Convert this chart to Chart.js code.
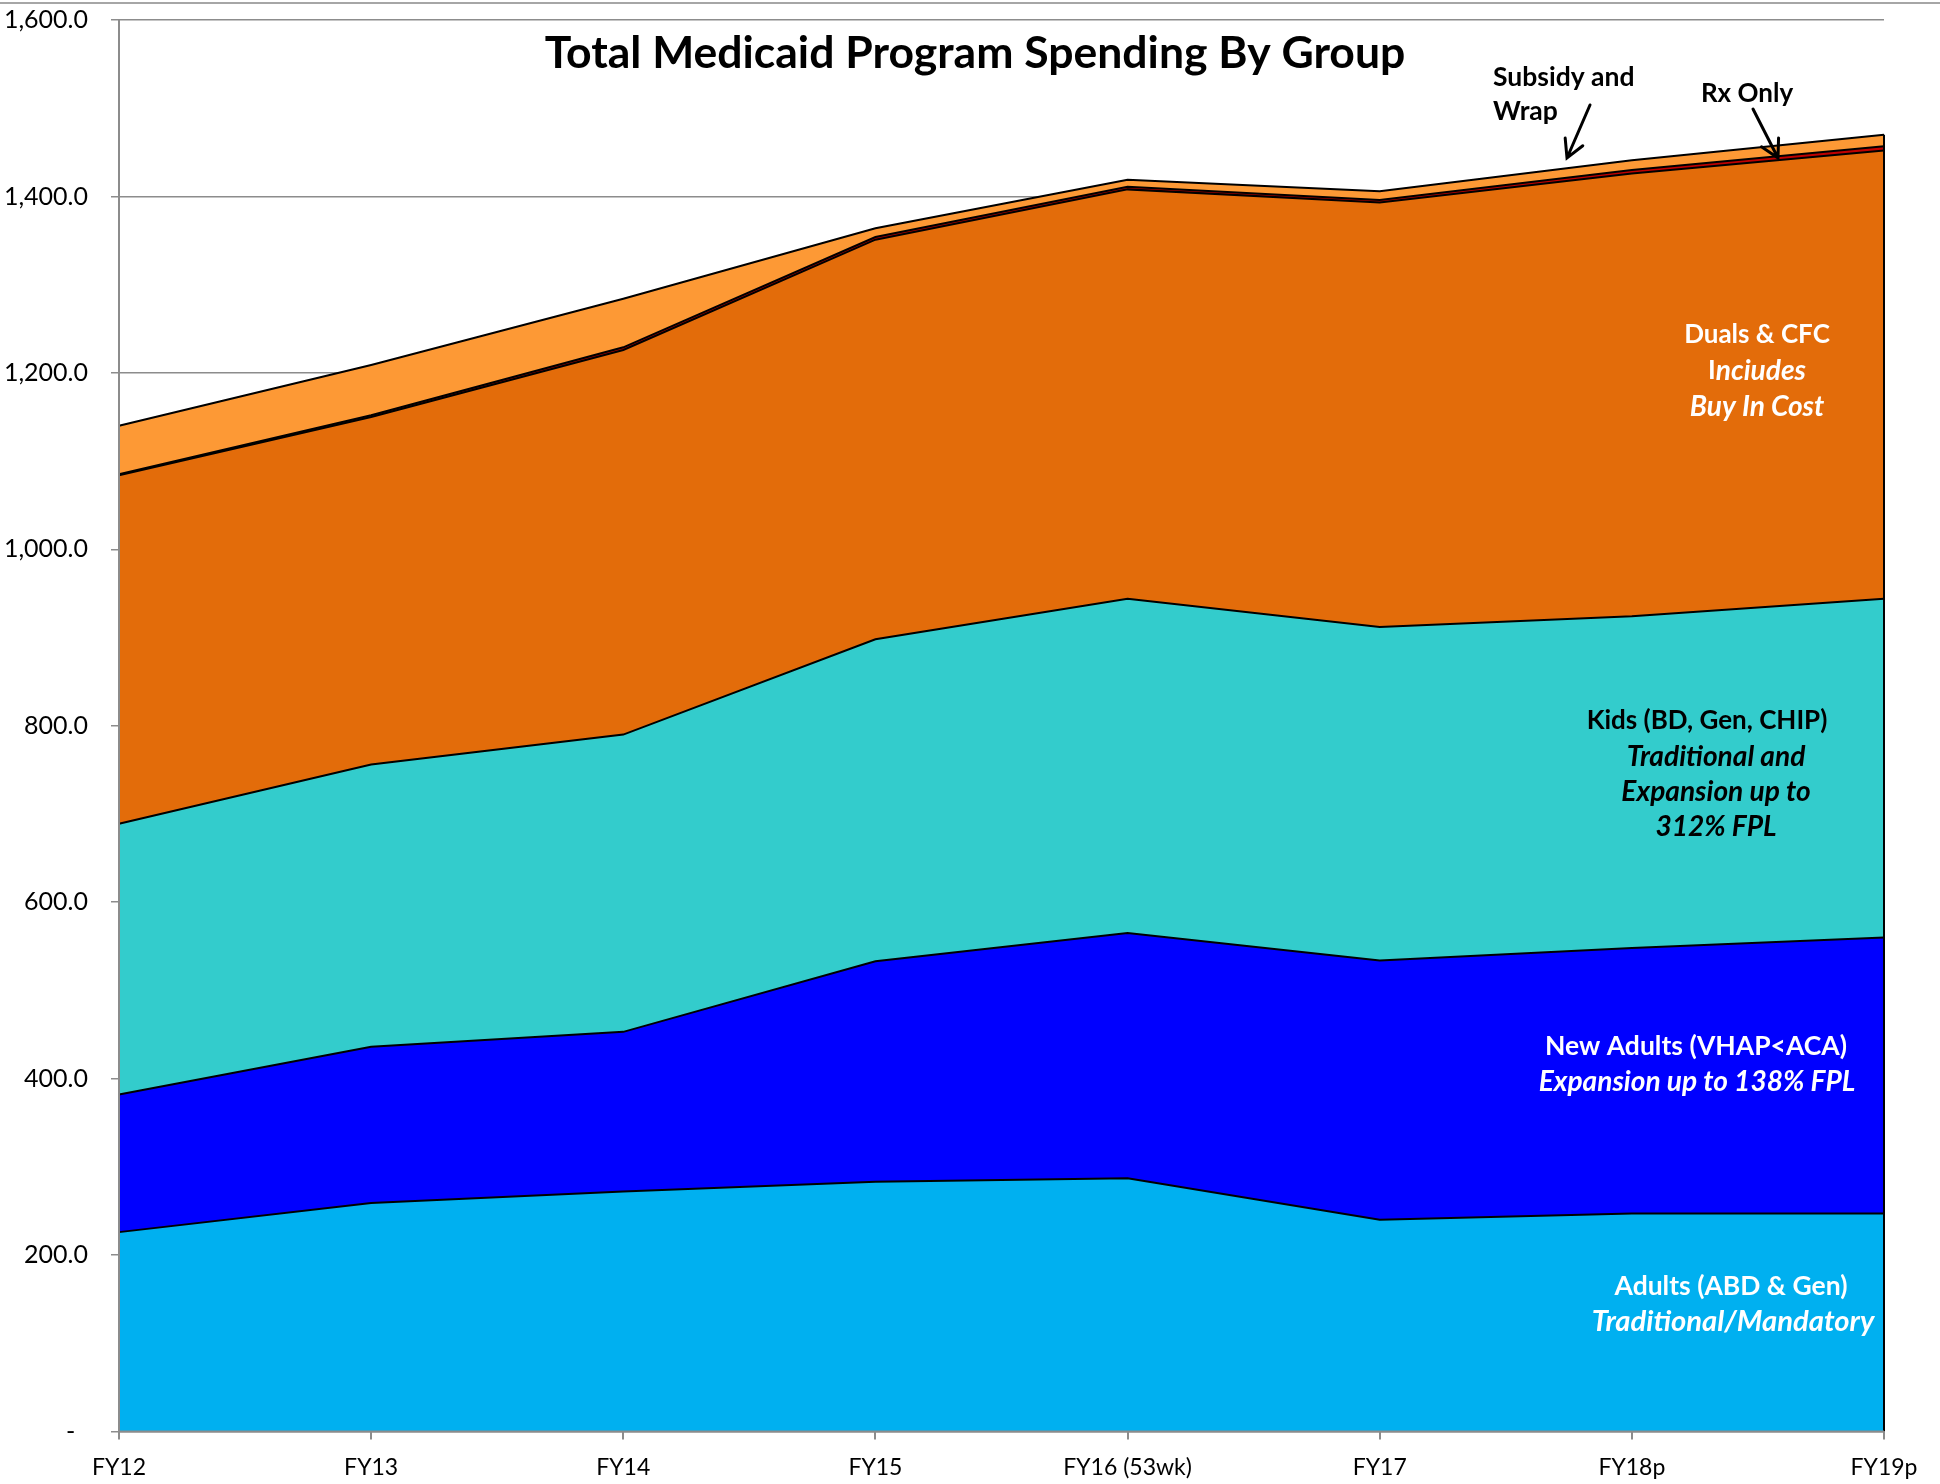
<!DOCTYPE html>
<html>
<head>
<meta charset="utf-8">
<script src="https://cdn.jsdelivr.net/npm/chart.js@4.4.0/dist/chart.umd.min.js"></script>
<style>
  html, body { margin: 0; padding: 0; background: #fff; }
  #wrap { width: 1940px; height: 1484px; position: relative; }
</style>
</head>
<body>
<div id="wrap"><canvas id="chart" width="1940" height="1484"></canvas></div>
<script>
const years = ['FY12', 'FY13', 'FY14', 'FY15', 'FY16 (53wk)', 'FY17', 'FY18p', 'FY19p'];
const adults    = [226, 259, 272, 283, 287, 240, 247, 247];
const newAdults = [156, 177, 181, 250, 278, 294, 301, 313];
const kids      = [307, 320, 337, 365, 379, 378, 376, 384];
const duals     = [395, 394, 436, 453, 464, 481, 502, 508];
const rxOnly    = [1, 2, 3, 3, 3, 3, 4, 5];
const subsidy   = [55, 57, 55, 10, 8, 10, 11, 13];
const yTicks    = [0, 200, 400, 600, 800, 1000, 1200, 1400, 1600];

const FONT = 'Lato, "Open Sans", sans-serif';
const ITALIC_SCALE = 1.08; // Lato italic runs narrower than the original's

// text drawn on top of the plot, in canvas pixels
const notes = [
  { x: 975,  y: 54,   align: 'center', size: 44.5, color: '#000', runs: [['Total Medicaid Program Spending By Group', false]] },
  { x: 1493, y: 77,   align: 'left',   size: 26.5, color: '#000', runs: [['Subsidy and', false]] },
  { x: 1493, y: 111,  align: 'left',   size: 26.5, color: '#000', runs: [['Wrap', false]] },
  { x: 1747, y: 94,   align: 'center', size: 26, color: '#000', runs: [['Rx Only', false]] },
  { x: 1757, y: 335,  align: 'center', size: 26, color: '#fff', runs: [['Duals & CFC', false]] },
  { x: 1757, y: 371,  align: 'center', size: 26, color: '#fff', runs: [['I', false], ['nciudes', true]] },
  { x: 1757, y: 407,  align: 'center', size: 26, color: '#fff', runs: [['Buy In Cost', true]] },
  { x: 1707, y: 721,  align: 'center', size: 26, color: '#000', runs: [['Kids (BD, Gen, CHIP)', false]] },
  { x: 1716, y: 757,  align: 'center', size: 26, color: '#000', runs: [['Traditional and', true]] },
  { x: 1716, y: 792,  align: 'center', size: 26, color: '#000', runs: [['Expansion up to', true]] },
  { x: 1716, y: 827,  align: 'center', size: 26, color: '#000', runs: [['312% FPL', true]] },
  { x: 1696, y: 1046, align: 'center', size: 26.5, color: '#fff', runs: [['New Adults (VHAP<ACA)', false]] },
  { x: 1697, y: 1082, align: 'center', size: 26, color: '#fff', runs: [['Expansion up to 138% FPL', true]] },
  { x: 1731, y: 1286, align: 'center', size: 26.5, color: '#fff', runs: [['Adults (ABD & Gen)', false]] },
  { x: 1733, y: 1322, align: 'center', size: 27, color: '#fff', runs: [['Traditional/Mandatory', true]] }
];
const arrows = [
  { from: [1590, 105], to: [1567, 158] },
  { from: [1753, 109], to: [1778, 158] }
];

function drawArrow(ctx, a) {
  const [x1, y1] = a.from, [x2, y2] = a.to;
  const ang = Math.atan2(y2 - y1, x2 - x1);
  const len = 20;
  ctx.beginPath();
  ctx.moveTo(x1, y1); ctx.lineTo(x2, y2);
  ctx.moveTo(x2 - len * Math.cos(ang - 0.5), y2 - len * Math.sin(ang - 0.5));
  ctx.lineTo(x2, y2);
  ctx.lineTo(x2 - len * Math.cos(ang + 0.5), y2 - len * Math.sin(ang + 0.5));
  ctx.stroke();
}

const overlay = {
  id: 'overlay',
  beforeDraw(chart) {
    const ctx = chart.ctx;
    ctx.save();
    ctx.strokeStyle = '#a6a6a6';
    ctx.lineWidth = 2;
    ctx.beginPath(); ctx.moveTo(0, 3); ctx.lineTo(chart.width, 3); ctx.stroke();
    ctx.restore();
  },
  afterDatasetsDraw(chart) {
    const ctx = chart.ctx, area = chart.chartArea;
    const xs = chart.scales.x, ys = chart.scales.y;
    const last = years.length - 1;
    const total = adults[last] + newAdults[last] + kids[last] + duals[last] + rxOnly[last] + subsidy[last];
    ctx.save();
    // closing right edge of the stacked areas
    ctx.strokeStyle = '#000';
    ctx.lineWidth = 2;
    const rx = xs.getPixelForValue(last);
    ctx.beginPath(); ctx.moveTo(rx, ys.getPixelForValue(total)); ctx.lineTo(rx, area.bottom); ctx.stroke();
    // axis lines over the fills
    ctx.strokeStyle = '#8c8c8c';
    ctx.lineWidth = 2;
    ctx.beginPath();
    ctx.moveTo(area.left, area.top); ctx.lineTo(area.left, area.bottom); ctx.lineTo(area.right, area.bottom);
    ctx.stroke();
    ctx.restore();
  },
  afterDraw(chart) {
    const ctx = chart.ctx;
    ctx.save();
    ctx.textBaseline = 'middle';
    notes.forEach(n => {
      const fonts = n.runs.map(r => r[1]
        ? 'italic bold ' + (n.size * ITALIC_SCALE).toFixed(1) + 'px ' + FONT
        : 'bold ' + n.size + 'px ' + FONT);
      const widths = n.runs.map((r, i) => { ctx.font = fonts[i]; return ctx.measureText(r[0]).width; });
      const total = widths.reduce((a, b) => a + b, 0);
      let x = n.align === 'center' ? n.x - total / 2 : n.x;
      ctx.fillStyle = n.color;
      ctx.textAlign = 'left';
      n.runs.forEach((r, i) => { ctx.font = fonts[i]; ctx.fillText(r[0], x, n.y); x += widths[i]; });
    });
    ctx.strokeStyle = '#000';
    ctx.lineWidth = 3;
    ctx.lineCap = 'round';
    arrows.forEach(a => drawArrow(ctx, a));
    ctx.restore();
  }
};

function series(label, data, color, fill) {
  return {
    label, data, fill,
    backgroundColor: color,
    borderColor: '#000',
    borderWidth: 2,
    pointRadius: 0,
    tension: 0
  };
}

new Chart(document.getElementById('chart'), {
  type: 'line',
  data: {
    labels: years,
    datasets: [
      series('Adults (ABD & Gen)', adults, '#00b0f0', 'origin'),
      series('New Adults (VHAP<ACA)', newAdults, '#0000ff', '-1'),
      series('Kids (BD, Gen, CHIP)', kids, '#33cccc', '-1'),
      series('Duals & CFC', duals, '#e36c0a', '-1'),
      series('Rx Only', rxOnly, '#c00000', '-1'),
      series('Subsidy and Wrap', subsidy, '#fd9935', '-1')
    ]
  },
  options: {
    responsive: false,
    animation: false,
    devicePixelRatio: 1,
    layout: { padding: { top: 20, right: 56, bottom: 0, left: 0 } },
    plugins: { legend: { display: false }, tooltip: { enabled: false } },
    scales: {
      x: {
        offset: false,
        grid: { drawOnChartArea: false, color: '#8c8c8c', tickColor: '#8c8c8c', tickLength: 8, lineWidth: 2 },
        border: { display: false },
        ticks: { color: '#000', font: { family: FONT, size: 23 }, padding: 14, maxRotation: 0 },
        afterFit(s) { s.height = 52.5; }
      },
      y: {
        stacked: true,
        min: 0, max: 1600,
        afterBuildTicks(s) { s.ticks = yTicks.map(v => ({ value: v })); },
        grid: { color: '#8c8c8c', tickColor: '#8c8c8c', tickLength: 8, lineWidth: 1.5 },
        border: { display: false },
        ticks: {
          color: '#000',
          font: { family: FONT, size: 25 },
          padding: 23,
          callback: v => v === 0 ? '-  ' : v.toLocaleString('en-US', { minimumFractionDigits: 1, maximumFractionDigits: 1 })
        },
        afterFit(s) { s.width = 119; s.paddingTop = 0; s.paddingBottom = 0; }
      }
    }
  },
  plugins: [overlay]
});
</script>
</body>
</html>
